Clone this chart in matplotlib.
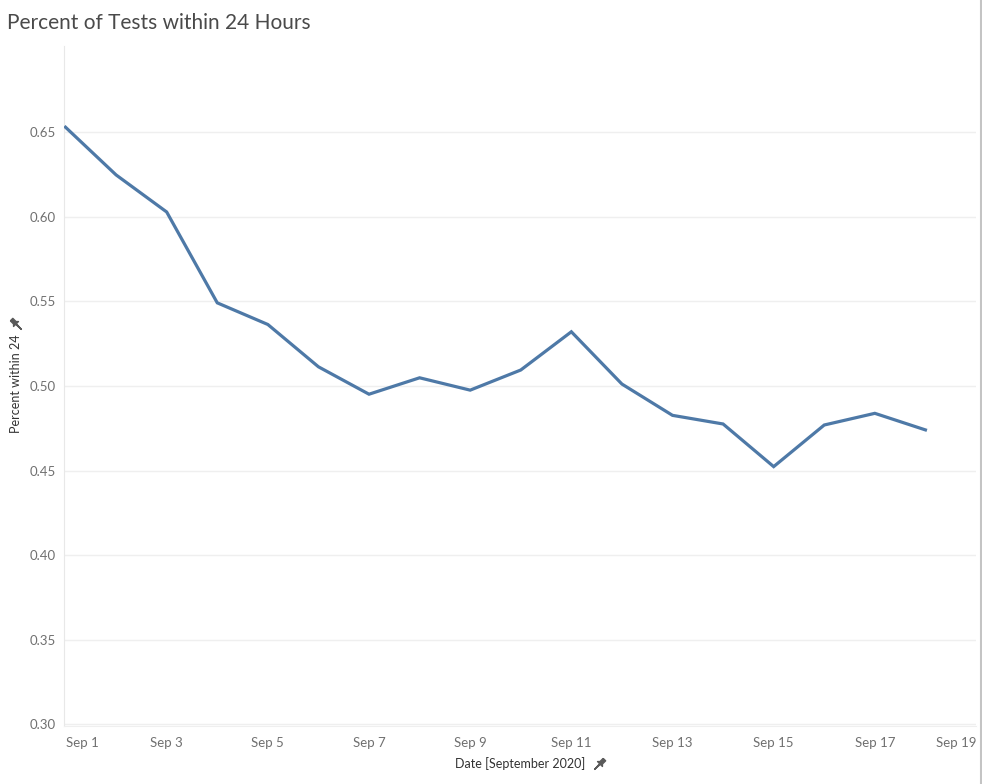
import matplotlib.pyplot as plt
from matplotlib.lines import Line2D
from matplotlib.markers import MarkerStyle
from matplotlib.path import Path
from matplotlib.transforms import Affine2D

plt.rcParams['font.family'] = ['Lato', 'DejaVu Sans']

days = [1, 2, 3, 4, 5, 6, 7, 8, 9, 10, 11, 12, 13, 14, 15, 16, 17, 18]
pct = [0.653, 0.6248, 0.6029, 0.5492, 0.5364, 0.5114, 0.4952, 0.5049, 0.4976,
       0.5095, 0.5321, 0.5012, 0.4827, 0.4776, 0.4524, 0.4770, 0.4839, 0.4741]

tick_days = [1, 3, 5, 7, 9, 11, 13, 15, 17, 19]
tick_labels = ['Sep 1', 'Sep 3', 'Sep 5', 'Sep 7', 'Sep 9', 'Sep 11', 'Sep 13',
               'Sep 15', 'Sep 17', 'Sep 19']
y_ticks = [0.30, 0.35, 0.40, 0.45, 0.50, 0.55, 0.60, 0.65]

W, H = 982, 784
fig = plt.figure(figsize=(W / 100, H / 100), dpi=100)
ax = fig.add_axes([64 / W, 1 - 726 / H, (976 - 64) / W, (726 - 46) / H])

ax.plot(days, pct, color='#4e79a7', lw=2.3, solid_joinstyle='miter', zorder=3)

ax.set_xlim(0.97, 19.0)
ax.set_ylim(0.2991, 0.701)
ax.set_yticks(y_ticks)
ax.set_yticklabels(['%.2f' % v for v in y_ticks])
ax.set_xticks(tick_days)
ax.set_xticklabels(tick_labels)
xl = ax.get_xticklabels()
xl[0].set_ha('left')
xl[-1].set_ha('right')

ax.grid(axis='y', color='#efefef', lw=1)
ax.tick_params(length=0, labelsize=9.5, labelcolor='#707070')
ax.tick_params(axis='y', pad=6)
ax.tick_params(axis='x', pad=8)
for s in ['top', 'right']:
    ax.spines[s].set_visible(False)
ax.spines['left'].set_color('#e8e8e8')
ax.spines['bottom'].set_color('#efefef')

fig.text(7 / W, 1 - 23 / H, 'Percent of Tests within 24 Hours', fontsize=15,
         color='#4a4a4a', va='center', ha='left')
fig.text(520 / W, 1 - 764 / H, 'Date [September 2020]', fontsize=9,
         color='#333333', va='center', ha='center')
fig.text(16 / W, 1 - 384 / H, 'Percent within 24', fontsize=9, rotation=90,
         color='#333333', va='center', ha='center')

# pin icons next to axis titles
pin = Path([(-0.25, 1.0), (0.25, 1.0), (0.25, 0.35), (0.5, 0.1), (0.07, 0.1),
            (0.0, -1.0), (-0.07, 0.1), (-0.5, 0.1), (-0.25, 0.35), (-0.25, 1.0)])
for px, py, ang in [(599, 764, -45), (16, 324, 45)]:
    m = MarkerStyle(pin, transform=Affine2D().rotate_deg(ang))
    fig.add_artist(Line2D([px / W], [1 - py / H], transform=fig.transFigure,
                          marker=m, markersize=10, color='#5a5a5a', ls='none'))

# right edge border
fig.add_artist(Line2D([980.5 / W, 980.5 / W], [0, 1], transform=fig.transFigure,
                      color='#c4c4c4', lw=1.5))

fig.savefig('out.png', dpi=100, facecolor='white')
